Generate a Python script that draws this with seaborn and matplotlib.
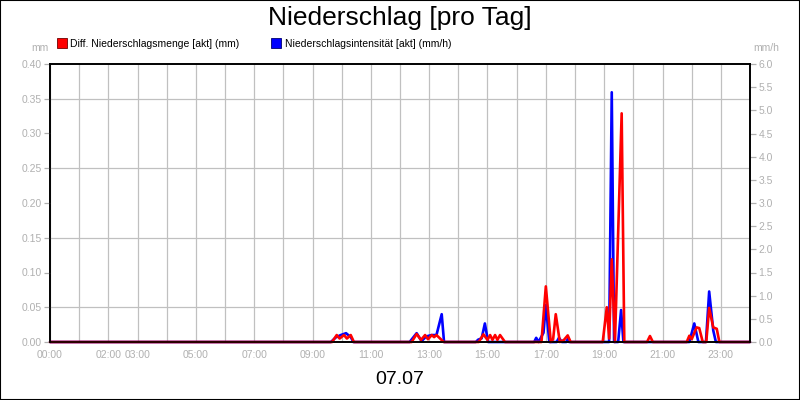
import pandas as pd
import matplotlib
matplotlib.use("Agg")
import matplotlib.pyplot as plt
import matplotlib.ticker as mticker
from matplotlib.lines import Line2D
from matplotlib.patches import Rectangle
import seaborn as sns

# Diff. Niederschlagsmenge [akt] (mm), time in hours of day
red_hours = [0.0, 9.67, 9.83, 9.93, 10.08, 10.18, 10.31, 10.42,
             12.40, 12.57, 12.72, 12.86, 12.96, 13.09, 13.17, 13.25, 13.50,
             14.70, 14.86, 15.00, 15.09, 15.17, 15.26, 15.34, 15.43, 15.60,
             16.85, 17.00, 17.17, 17.25, 17.34, 17.48, 17.62, 17.75, 17.85,
             18.95, 19.09, 19.17, 19.26, 19.37, 19.60, 19.69,
             20.47, 20.57, 20.67,
             21.83, 21.92, 22.00, 22.17, 22.26, 22.38, 22.50, 22.60, 22.74, 22.86, 22.95, 24.0]
red_mm = [0.0, 0.0, 0.010, 0.005, 0.010, 0.005, 0.010, 0.0,
          0.0, 0.0115, 0.003, 0.010, 0.004, 0.010, 0.007, 0.010, 0.0,
          0.0, 0.011, 0.003, 0.010, 0.003, 0.010, 0.003, 0.010, 0.0,
          0.0, 0.080, 0.0, 0.004, 0.040, 0.0, 0.003, 0.0095, 0.0,
          0.0, 0.050, 0.005, 0.119, 0.0, 0.329, 0.0,
          0.0, 0.0086, 0.0,
          0.0, 0.009, 0.004, 0.021, 0.020, 0.0, 0.0, 0.049, 0.021, 0.019, 0.0, 0.0]

# Niederschlagsintensität [akt] (mm/h)
blue_hours = [0.0, 9.63, 9.80, 9.97, 10.15, 10.32, 10.40,
              12.33, 12.57, 12.74, 12.90, 13.08, 13.25, 13.43, 13.51,
              14.60, 14.68, 14.80, 14.91, 15.02,
              16.60, 16.67, 16.75, 16.92, 17.00, 17.12, 17.37, 17.45, 17.55, 17.70, 17.75, 17.80,
              19.17, 19.26, 19.34, 19.48, 19.58, 19.66,
              21.92, 22.09, 22.23, 22.49, 22.60, 22.74, 22.83, 24.0]
blue_mmh = [0.0, 0.0, 0.10, 0.15, 0.19, 0.10, 0.0,
            0.0, 0.19, 0.02, 0.12, 0.15, 0.15, 0.60, 0.0,
            0.0, 0.05, 0.08, 0.40, 0.0,
            0.0, 0.09, 0.0, 0.20, 0.80, 0.0, 0.0, 0.09, 0.0, 0.0, 0.06, 0.0,
            0.0, 5.39, 0.0, 0.0, 0.69, 0.0,
            0.0, 0.40, 0.0, 0.0, 1.09, 0.25, 0.0, 0.0]

hour_labels = {0: "00:00", 2: "02:00", 3: "03:00", 5: "05:00", 7: "07:00", 9: "09:00",
               11: "11:00", 13: "13:00", 15: "15:00", 17: "17:00", 19: "19:00",
               21: "21:00", 23: "23:00"}

red_df = pd.DataFrame({"hour": red_hours, "mm": red_mm})
blue_df = pd.DataFrame({"hour": blue_hours, "mmh": blue_mmh})

sns.set_style("white")
plt.rcParams["font.family"] = ["Liberation Sans", "DejaVu Sans"]
plt.rcParams["text.color"] = "black"

GRAY = "#b0b0b0"
fig = plt.figure(figsize=(8, 4), dpi=100)
ax_b = fig.add_axes([50 / 800, 58 / 400, 700 / 800, 278 / 400])
ax_r = ax_b.twinx()

sns.lineplot(data=blue_df, x="hour", y="mmh", ax=ax_b, color="#0000ff", lw=1.9, clip_on=False)
sns.lineplot(data=red_df, x="hour", y="mm", ax=ax_r, color="#ff0000", lw=1.9, clip_on=False)

ax_b.set_xlim(0, 24)
ax_b.set_ylim(0, 6.0)
ax_r.set_ylim(0, 0.40)

# axis sides: mm on the left, mm/h on the right
ax_b.yaxis.tick_right()
ax_r.yaxis.tick_left()
ax_b.yaxis.set_major_locator(mticker.MultipleLocator(0.5))
ax_b.yaxis.set_major_formatter(mticker.FormatStrFormatter("%.1f"))
ax_b.yaxis.set_minor_locator(mticker.MultipleLocator(0.75))
ax_r.yaxis.set_major_locator(mticker.MultipleLocator(0.05))
ax_r.yaxis.set_major_formatter(mticker.FormatStrFormatter("%.2f"))

ax_b.xaxis.set_major_locator(mticker.FixedLocator(range(25)))
ax_b.set_xticklabels([hour_labels.get(h, "") for h in range(25)])

ax_b.grid(True, which="major", axis="x", color="#c0c0c0", lw=0.9)
ax_b.grid(True, which="minor", axis="y", color="#c0c0c0", lw=0.9)
ax_b.set_axisbelow(True)

for a in (ax_b, ax_r):
    a.set_xlabel("")
    a.set_ylabel("")
    a.tick_params(axis="both", which="major", colors=GRAY, labelcolor=GRAY,
                  labelsize=7.5, length=4, width=0.9, pad=2, direction="out")
    for s in a.spines.values():
        s.set_color("black")
        s.set_linewidth(1.2)
ax_b.tick_params(axis="y", which="minor", length=0)
ax_b.tick_params(axis="x", pad=2)

fig.text(0.5, 1 - 18 / 400, "Niederschlag [pro Tag]", ha="center", va="center", fontsize=19)
fig.text(0.5, 1 - 379 / 400, "07.07", ha="center", va="center", fontsize=14)
fig.text(40 / 800, 1 - 48 / 400, "mm", ha="center", va="center", fontsize=7.5, color=GRAY)
fig.text(766 / 800, 1 - 48 / 400, "mm/h", ha="center", va="center", fontsize=7.5, color=GRAY)

handles = [Line2D([], [], marker="s", ls="none", markersize=6.5,
                  markerfacecolor="#ff0000", markeredgecolor="#700000", markeredgewidth=0.6),
           Line2D([], [], marker="s", ls="none", markersize=6.5,
                  markerfacecolor="#0000ff", markeredgecolor="#000070", markeredgewidth=0.6)]
fig.legend(handles, ["Diff. Niederschlagsmenge [akt] (mm)", "Niederschlagsintensität [akt] (mm/h)"],
           loc="center left", bbox_to_anchor=(58 / 800, 1 - 44 / 400), ncol=2, frameon=False,
           fontsize=7.5, handlelength=0.8, handletextpad=0.4, columnspacing=3.1,
           borderaxespad=0, borderpad=0)

fig.patches.append(Rectangle((0, 0), 1, 1, transform=fig.transFigure, fill=False,
                             edgecolor="black", lw=1.5))

fig.savefig("out.png", dpi=100)
